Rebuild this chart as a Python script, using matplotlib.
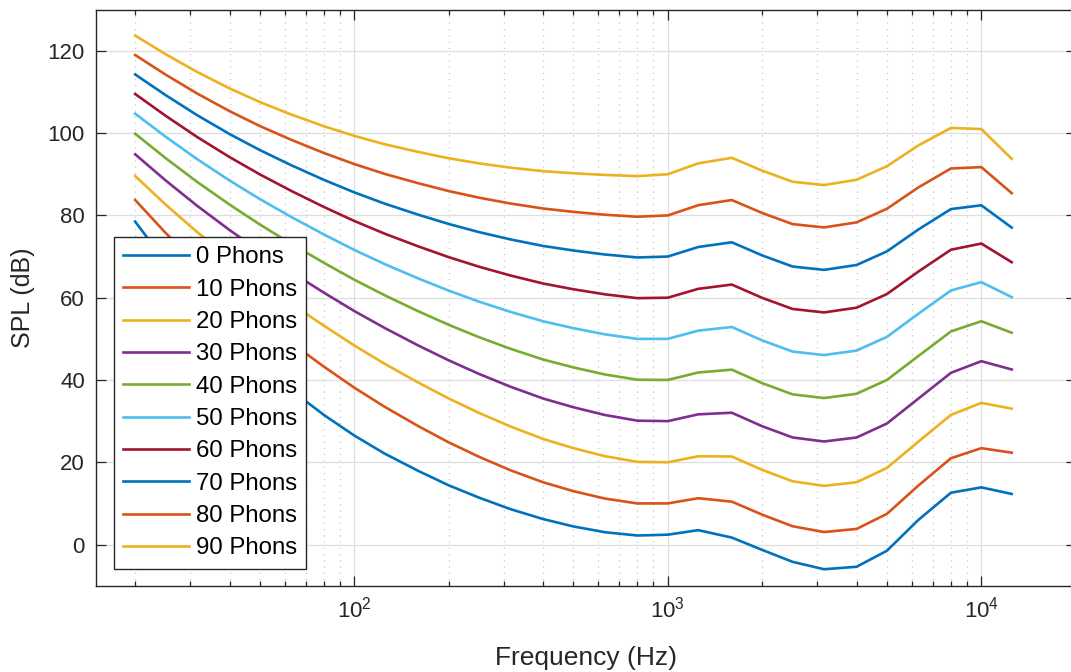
import numpy as np
import matplotlib.pyplot as plt
from matplotlib.ticker import LogLocator, NullFormatter

plt.rcParams['font.family'] = ['Liberation Sans', 'DejaVu Sans']

# third-octave centre frequencies (Hz)
freqs = [20, 25, 31.5, 40, 50, 63, 80, 100, 125, 160, 200, 250, 315, 400, 500,
         630, 800, 1000, 1250, 1600, 2000, 2500, 3150, 4000, 5000, 6300, 8000,
         10000, 12500]

# equal-loudness contours, SPL in dB
spl_0 = [78.5, 68.7, 59.5, 51.1, 44.0, 37.5, 31.5, 26.5, 22.1, 17.9, 14.4, 11.4,
         8.6, 6.2, 4.4, 3.0, 2.2, 2.4, 3.5, 1.7, -1.3, -4.2, -6.0, -5.4, -1.5,
         6.0, 12.6, 13.9, 12.3]
spl_10 = [83.75, 75.76, 68.21, 61.14, 54.96, 49.01, 43.24, 38.13, 33.48, 28.78,
          24.84, 21.33, 18.05, 15.14, 12.98, 11.18, 9.99, 10.00, 11.26, 10.43,
          7.27, 4.45, 3.04, 3.80, 7.46, 14.35, 20.98, 23.43, 22.33]
spl_20 = [89.58, 82.65, 75.98, 69.62, 64.02, 58.55, 53.19, 48.38, 43.94, 39.37,
          35.51, 31.99, 28.69, 25.67, 23.43, 21.48, 20.10, 20.00, 21.46, 21.40,
          18.15, 15.38, 14.26, 15.14, 18.63, 25.02, 31.52, 34.43, 33.04]
spl_30 = [94.85, 88.52, 82.36, 76.45, 71.26, 66.20, 61.22, 56.76, 52.64, 48.38,
          44.78, 41.47, 38.36, 35.50, 33.37, 31.49, 30.11, 30.00, 31.65, 32.04,
          28.76, 26.03, 25.05, 26.02, 29.42, 35.48, 41.74, 44.57, 42.55]
spl_40 = [99.85, 93.94, 88.17, 82.63, 77.78, 73.08, 68.48, 64.37, 60.59, 56.70,
          53.41, 50.40, 47.58, 44.98, 43.05, 41.34, 40.06, 40.01, 41.82, 42.51,
          39.23, 36.51, 35.61, 36.65, 40.01, 45.83, 51.80, 54.28, 51.49]
spl_50 = [104.72, 99.14, 93.70, 88.49, 83.96, 79.61, 75.36, 71.61, 68.17, 64.68,
          61.72, 59.04, 56.55, 54.27, 52.59, 51.10, 49.98, 50.00, 51.99, 52.88,
          49.62, 46.91, 46.05, 47.15, 50.48, 56.11, 61.76, 63.78, 60.14]
spl_60 = [109.51, 104.23, 99.08, 94.18, 89.96, 85.94, 82.05, 78.65, 75.56, 72.47,
          69.86, 67.53, 65.39, 63.45, 62.05, 60.82, 59.89, 60.00, 62.15, 63.19,
          59.96, 57.26, 56.42, 57.57, 60.89, 66.36, 71.66, 73.16, 68.63]
spl_70 = [114.26, 109.25, 104.38, 99.78, 95.87, 92.18, 88.64, 85.60, 82.86, 80.17,
          77.92, 75.94, 74.16, 72.58, 71.47, 70.50, 69.78, 70.00, 72.32, 73.47,
          70.28, 67.58, 66.76, 67.95, 71.26, 76.59, 81.54, 82.46, 77.04]
spl_80 = [118.99, 114.23, 109.65, 105.34, 101.72, 98.36, 95.17, 92.48, 90.09, 87.82,
          85.92, 84.31, 82.89, 81.68, 80.86, 80.17, 79.67, 80.00, 82.48, 83.74,
          80.59, 77.89, 77.08, 78.31, 81.62, 86.81, 91.41, 91.74, 85.41]
spl_90 = [123.71, 119.20, 114.88, 110.87, 107.54, 104.51, 101.67, 99.33, 97.29, 95.43,
          93.89, 92.65, 91.60, 90.76, 90.24, 89.84, 89.55, 90.00, 92.65, 94.00,
          90.88, 88.18, 87.38, 88.66, 91.96, 97.02, 101.26, 100.99, 93.75]

levels = [0, 10, 20, 30, 40, 50, 60, 70, 80, 90]
curves = [spl_0, spl_10, spl_20, spl_30, spl_40, spl_50, spl_60, spl_70, spl_80, spl_90]

colors = ['#0072BD', '#D95319', '#EDB120', '#7E2F8E', '#77AC30', '#4DBEEE', '#A2142F']
ink = '#262626'

W, H = 1071, 672
fig = plt.figure(figsize=(W / 100, H / 100), dpi=100)
ax = fig.add_axes([96 / W, (H - 585.7) / H, (1075.7 - 96) / W, (585.7 - 9.7) / H])

for i, (lvl, vals) in enumerate(zip(levels, curves)):
    ax.semilogx(freqs, vals, color=colors[i % len(colors)], lw=1.9,
                label=f'{lvl} Phons')

ax.set_xlim(15, 20000)
ax.set_ylim(-10, 130)
ax.set_yticks(range(0, 121, 20))
ax.xaxis.set_major_locator(LogLocator(base=10, numticks=10))
ax.xaxis.set_minor_locator(LogLocator(base=10, subs=np.arange(2, 10), numticks=30))
ax.xaxis.set_minor_formatter(NullFormatter())

ax.set_axisbelow(True)
ax.grid(True, which='major', color='#dedede', lw=0.9)
ax.grid(True, which='minor', axis='x', color='#c8c8c8', lw=0.9, ls=(0, (1, 4)))

ax.tick_params(which='both', direction='in', top=True, right=True,
               color=ink, labelcolor=ink, labelsize=16)
ax.tick_params(which='major', length=7, width=0.9, pad=8)
ax.tick_params(which='minor', length=3.5, width=0.9)
for sp in ax.spines.values():
    sp.set_color(ink)
    sp.set_linewidth(1.0)

ax.set_xlabel('Frequency (Hz)', fontsize=19, color=ink)
ax.set_ylabel('SPL (dB)', fontsize=18, color=ink)
ax.xaxis.set_label_coords(0.5, -0.105)
ax.yaxis.set_label_coords(-0.062, 0.5)

leg = ax.legend(loc='upper left', bbox_to_anchor=(114.3 / W, 1 - 237.3 / H),
                bbox_transform=fig.transFigure, borderaxespad=0, fontsize=17.3,
                handlelength=2.73, handletextpad=0.28, labelspacing=0.43,
                borderpad=0.38, fancybox=False, framealpha=1, edgecolor=ink)
leg.get_frame().set_linewidth(1.0)

fig.savefig('out.png', dpi=100)
